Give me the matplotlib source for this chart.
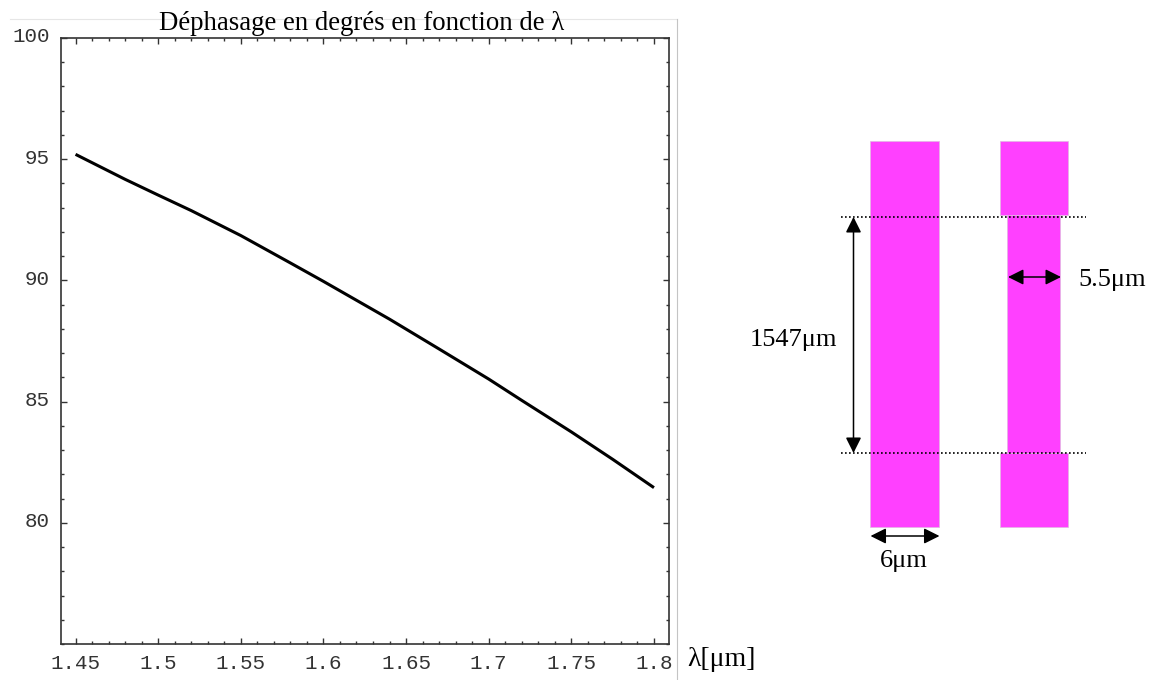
import matplotlib.pyplot as plt
from matplotlib.patches import Rectangle
from matplotlib.ticker import MultipleLocator
from matplotlib.transforms import ScaledTranslation

# courbe
wavelength = [1.45, 1.48, 1.5, 1.52, 1.55, 1.58, 1.6, 1.62, 1.64, 1.67, 1.7, 1.72, 1.75, 1.775, 1.8]
phase_deg = [95.2, 94.17, 93.52, 92.88, 91.85, 90.72, 89.96, 89.18, 88.4, 87.17, 85.93, 85.05, 83.75, 82.62, 81.45]
x_ticks = [1.45, 1.5, 1.55, 1.6, 1.65, 1.7, 1.75, 1.8]
x_labels = ["1.45", "1.5", "1.55", "1.6", "1.65", "1.7", "1.75", "1.8"]
y_ticks = [80, 85, 90, 95, 100]

title = "Déphasage en degrés en fonction de λ"
x_label = "λ[μm]"
length_label = "1547μm"
narrow_label = "5.5μm"
wide_label = "6μm"

W, H = 1152, 680
SERIF = "Liberation Serif"
MONO = "Liberation Mono"
MAGENTA = "#ff40ff"
DARK = "#333333"

fig = plt.figure(figsize=(W / 100, H / 100), dpi=100)

# axes du graphe, placés en pixels
left, right, top, bottom = 61, 669, 38, 644
ax = fig.add_axes([left / W, 1 - bottom / H, (right - left) / W, (bottom - top) / H])
ax.plot(wavelength, phase_deg, color="black", lw=2.2, solid_capstyle="butt")
ax.set_xlim(1.4412, 1.8091)
ax.set_ylim(75, 100)
ax.set_xticks(x_ticks, x_labels)
ax.set_yticks(y_ticks)
ax.xaxis.set_minor_locator(MultipleLocator(0.01))
ax.yaxis.set_minor_locator(MultipleLocator(1))
ax.tick_params(which="both", direction="in", top=True, right=True, color=DARK, width=1.0)
ax.tick_params(which="major", length=4)
ax.tick_params(which="minor", length=2.5)
ax.tick_params(axis="x", which="major", labelsize=15, labelcolor=DARK, pad=7)
ax.tick_params(axis="y", which="major", labelsize=15, labelcolor=DARK, pad=8)
for label in ax.get_xticklabels() + ax.get_yticklabels():
    label.set_family(MONO)
# les étiquettes y sont un peu plus haut que les graduations
shift = ScaledTranslation(0, 3 / 100, fig.dpi_scale_trans)
for label in ax.get_yticklabels():
    label.set_transform(label.get_transform() + shift)
for spine in ax.spines.values():
    spine.set_color(DARK)
    spine.set_linewidth(1.2)

# calque en pixels pour le schéma et le cadre clair
over = fig.add_axes([0, 0, 1, 1], zorder=3)
over.set_xlim(0, W)
over.set_ylim(H, 0)
over.axis("off")
over.patch.set_alpha(0)

over.plot([10, 677], [19, 19], color="#e6e6e6", lw=0.8)
over.plot([677, 677], [19, 680], color="#c4c4c4", lw=0.8)

for x0, y0, w, h in [(870, 141, 69, 386), (1000, 141, 68, 74), (1007, 215, 53, 238), (1000, 453, 68, 74)]:
    over.add_patch(Rectangle((x0, y0), w, h, fc=MAGENTA, ec="#e0b8e0", lw=0.5))

for y in [216.5, 453]:
    over.plot([841, 1086], [y, y], color="black", lw=1.2, ls=(0, (1, 1.4)))

arrow = dict(arrowstyle="<|-|>,head_length=0.47,head_width=0.235", color="black", lw=1.1,
             shrinkA=0, shrinkB=0, mutation_scale=20)
over.annotate("", xy=(853.5, 217), xytext=(853.5, 453), arrowprops=arrow)
over.annotate("", xy=(1008, 277), xytext=(1061, 277), arrowprops=arrow)
over.annotate("", xy=(870.5, 536), xytext=(939.5, 536), arrowprops=arrow)

over.text(362, 23, title, family=SERIF, fontsize=19.3, ha="center", va="center")
over.text(721.5, 660, x_label, family=SERIF, fontsize=20, ha="center", va="center")
over.text(793.5, 340, length_label, family=SERIF, fontsize=19, ha="center", va="center")
over.text(1112, 280, narrow_label, family=SERIF, fontsize=19, ha="center", va="center")
over.text(904, 561, wide_label, family=SERIF, fontsize=19, ha="center", va="center")

fig.savefig("out.png", dpi=100)
